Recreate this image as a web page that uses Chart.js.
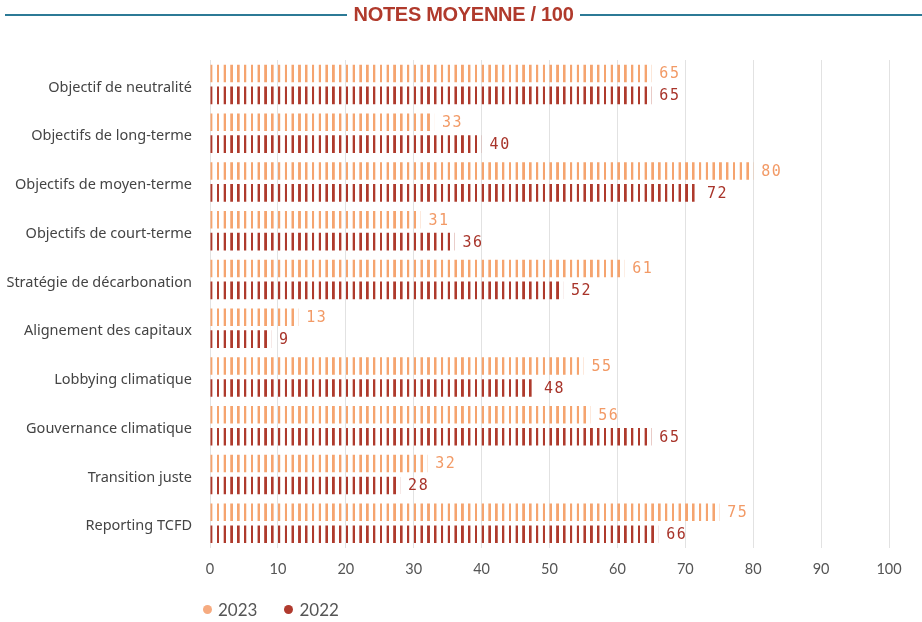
<!DOCTYPE html>
<html>
<head>
<meta charset="utf-8">
<script src="https://cdn.jsdelivr.net/npm/chart.js@4"></script>
<style>
  html, body { margin: 0; padding: 0; background: #fff; }
  #wrap { position: relative; width: 922px; height: 622px; }
  #titre { position: absolute; left: 0; top: 3px; width: 922px; display: flex; align-items: center; }
  #titre .ligne { flex: 1; height: 2px; background: #2c7a96; }
  #titre .txt { margin: 0 7px; font-family: "Liberation Sans", sans-serif; font-weight: bold;
    font-size: 20px; color: #b03a2c; letter-spacing: -0.3px; }
  #titre .gauche { margin-left: 5px; }
  #legende { position: absolute; left: 203px; top: 599px; font-family: Lato, sans-serif; font-size: 17px; color: #555; }
  #legende span { margin-right: 27px; }
  #legende i { display: inline-block; width: 9px; height: 9px; border-radius: 50%; margin-right: 6px; vertical-align: 2px; }
  canvas { position: absolute; left: 0; top: 0; }
</style>
</head>
<body>
<div id="wrap">
  <canvas id="notesChart" width="922" height="622"></canvas>
  <div id="titre"><div class="ligne gauche"></div><div class="txt">NOTES MOYENNE / 100</div><div class="ligne"></div></div>
  <div id="legende"></div>
</div>
<script>
// données
var categories = [
  "Objectif de neutralité",
  "Objectifs de long-terme",
  "Objectifs de moyen-terme",
  "Objectifs de court-terme",
  "Stratégie de décarbonation",
  "Alignement des capitaux",
  "Lobbying climatique",
  "Gouvernance climatique",
  "Transition juste",
  "Reporting TCFD"
];
var notes2023 = [65, 33, 80, 31, 61, 13, 55, 56, 32, 75];
var notes2022 = [65, 40, 72, 36, 52, 9, 48, 65, 28, 66];
var xTicks = [0, 10, 20, 30, 40, 50, 60, 70, 80, 90, 100];

var couleur2023 = "#f5a46f";
var couleur2022 = "#ae3a2c";

// motif rayé : une raie par unité
var motifs = {};
function rayure(ctx, couleur) {
  var chart = ctx.chart;
  var x = chart.scales && chart.scales.x;
  if (!x || x.width === undefined || isNaN(x.getPixelForValue(0))) return couleur;
  var unite = x.getPixelForValue(1) - x.getPixelForValue(0);
  var x0 = x.getPixelForValue(0);
  var cle = couleur + unite.toFixed(3) + x0.toFixed(2);
  if (motifs[cle]) return motifs[cle];
  var c = document.createElement("canvas");
  c.width = 14; c.height = 4;
  var g = c.getContext("2d");
  g.fillStyle = couleur;
  g.fillRect(0, 0, 5, 4);
  var p = chart.ctx.createPattern(c, "repeat");
  p.setTransform(new DOMMatrix().translate(x0, 0).scale(unite / 14, 1));
  motifs[cle] = p;
  return p;
}

var etiquettes = {
  id: "etiquettes",
  afterDatasetsDraw: function(chart) {
    var ctx = chart.ctx;
    ctx.save();
    ctx.font = "15px 'DejaVu Sans Mono', monospace";
    ctx.letterSpacing = "1.5px";
    ctx.textBaseline = "middle";
    ctx.textAlign = "left";
    chart.data.datasets.forEach(function(ds, i) {
      var meta = chart.getDatasetMeta(i);
      ctx.fillStyle = ds.labelColor;
      meta.data.forEach(function(bar, j) {
        ctx.fillText(ds.data[j], bar.x + 8, bar.y + 1);
      });
    });
    ctx.restore();
  }
};

var chart = new Chart(document.getElementById("notesChart"), {
  type: "bar",
  data: {
    labels: categories,
    datasets: [{
      label: "2023",
      data: notes2023,
      backgroundColor: function(ctx) { return rayure(ctx, couleur2023); },
      legendColor: "#f6ab80",
      labelColor: "#f29a66",
      categoryPercentage: 0.9,
      barPercentage: 0.8
    }, {
      label: "2022",
      data: notes2022,
      backgroundColor: function(ctx) { return rayure(ctx, couleur2022); },
      legendColor: "#b03a2e",
      labelColor: "#a8342a",
      categoryPercentage: 0.9,
      barPercentage: 0.8
    }]
  },
  options: {
    indexAxis: "y",
    responsive: false,
    animation: false,
    layout: { padding: { top: 60, left: 0, right: 33, bottom: 31 } },
    scales: {
      x: {
        min: 0, max: 100,
        afterBuildTicks: function(s) { s.ticks = xTicks.map(function(v) { return { value: v }; }); },
        grid: { color: "#e2e2e2", drawTicks: false },
        border: { display: false },
        ticks: { padding: 13, color: "#555", font: { family: "Lato", size: 14.5 } }
      },
      y: {
        afterFit: function(s) { s.width = 210; },
        grid: { display: false, drawTicks: false },
        border: { display: false },
        ticks: { padding: 18, labelOffset: 3, color: "#444", font: { family: "Noto Sans", size: 14.5 } }
      }
    },
    plugins: {
      legend: { display: false },
      tooltip: { enabled: false }
    }
  },
  plugins: [etiquettes]
});

// légende
var leg = document.getElementById("legende");
chart.data.datasets.forEach(function(ds) {
  var s = document.createElement("span");
  var pt = document.createElement("i");
  pt.style.background = ds.legendColor;
  s.appendChild(pt);
  s.appendChild(document.createTextNode(ds.label));
  leg.appendChild(s);
});
</script>
</body>
</html>
